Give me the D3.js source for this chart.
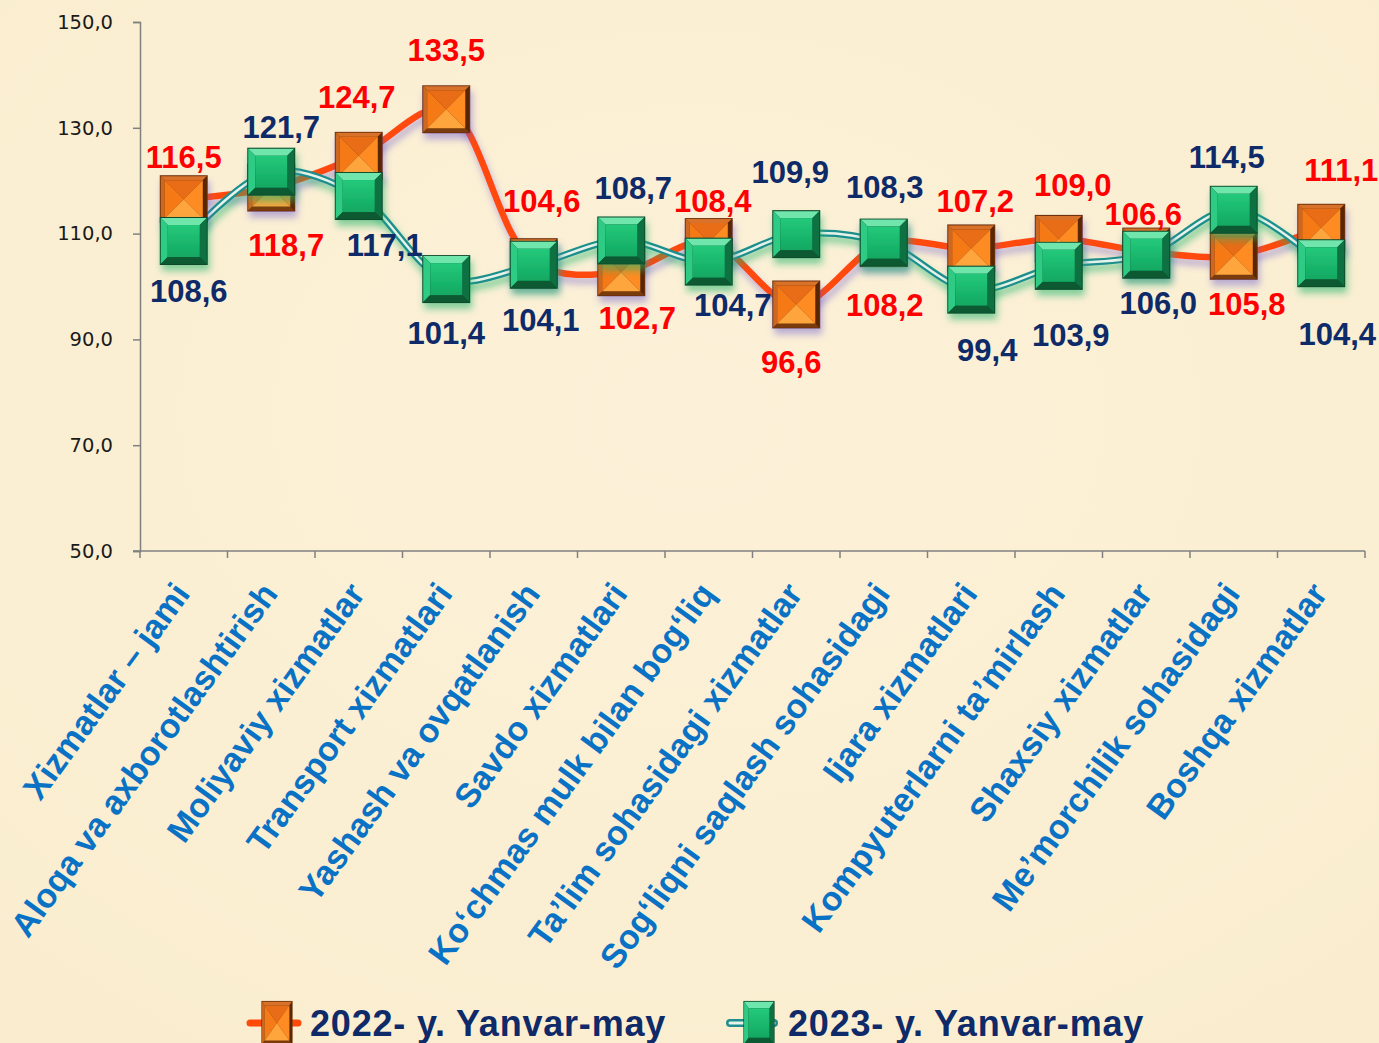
<!DOCTYPE html>
<html>
<head>
<meta charset="utf-8">
<script src="https://d3js.org/d3.v7.min.js"></script>
<style>
  html, body { margin: 0; padding: 0; background: #fbf0d6; }
  svg { display: block; }
</style>
</head>
<body>
<svg id="chart"></svg>
<script>
// data
var categories = ["Xizmatlar – jami", "Aloqa va axborotlashtirish", "Moliyaviy xizmatlar",
  "Transport xizmatlari", "Yashash va ovqatlanish", "Savdo xizmatlari",
  "Ko‘chmas mulk bilan bog‘liq", "Ta’lim sohasidagi xizmatlar", "Sog‘liqni saqlash sohasidagi",
  "Ijara xizmatlari", "Kompyuterlarni ta’mirlash", "Shaxsiy xizmatlar",
  "Me’morchilik sohasidagi", "Boshqa xizmatlar"];
var values2022 = [116.5, 118.7, 124.7, 133.5, 104.6, 102.7, 108.4, 96.6, 108.2, 107.2, 109.0, 106.6, 105.8, 111.1];
var values2023 = [108.6, 121.7, 117.1, 101.4, 104.1, 108.7, 104.7, 109.9, 108.3, 99.4, 103.9, 106.0, 114.5, 104.4];
var yTicks = [50, 70, 90, 110, 130, 150];
var seriesNames = ["2022- y. Yanvar-may", "2023- y. Yanvar-may"];

// label placement (pixel offsets from the marker)
var labelOff2022 = [[0,-42],[15,57],[-2,-59],[0,-59],[8,-61],[16,46],[4,-41],[-5,57],[1,62],[4,-48],[14,-54],[-3,-38],[13,48],[20,-58]];
var labelOff2023 = [[5,50],[10,-45],[26,49],[0,54],[7,55],[12,-53],[24,43],[-6,-62],[1,-56],[16,60],[12,69],[12,48],[-7,-53],[16,71]];

var W = 1379, H = 1043;
var margin = {top: 22, right: 14, bottom: 492, left: 140},
    width = W - margin.left - margin.right,
    height = H - margin.top - margin.bottom;

var root = d3.select("#chart").attr("width", W).attr("height", H);
var defs = root.append("defs");

// background
var bg = defs.append("radialGradient").attr("id", "bgGrad").attr("cx", "50%").attr("cy", "40%").attr("r", "75%");
bg.append("stop").attr("offset", "0%").attr("stop-color", "#fcf1d8");
bg.append("stop").attr("offset", "100%").attr("stop-color", "#faedcf");
root.append("rect").attr("width", W).attr("height", H).attr("fill", "url(#bgGrad)");

// shadows
function shadow(id, color, op) {
  var f = defs.append("filter").attr("id", id).attr("x", "-50%").attr("y", "-50%").attr("width", "200%").attr("height", "200%");
  f.append("feDropShadow").attr("dx", 2).attr("dy", 6).attr("stdDeviation", 3.5)
    .attr("flood-color", color).attr("flood-opacity", op);
}
shadow("shOrange", "#6a5acd", 0.45);
shadow("shGreen", "#1db36a", 0.55);

// marker symbols
var o = defs.append("g").attr("id", "mkOrange");
o.append("rect").attr("x", -24).attr("y", -24).attr("width", 48).attr("height", 48).attr("fill", "#6e3208");
o.append("polygon").attr("points", "-23,-23 23,-23 19,-19 -19,-19").attr("fill", "#d8722a");
o.append("polygon").attr("points", "-23,-23 -19,-19 -19,19 -23,23").attr("fill", "#cc6820");
o.append("polygon").attr("points", "23,-23 23,23 19,19 19,-19").attr("fill", "#5a2806");
o.append("polygon").attr("points", "-23,23 23,23 19,19 -19,19").attr("fill", "#7a3a0a");
o.append("polygon").attr("points", "-19,-19 19,-19 0,0").attr("fill", "#e96c18");
o.append("polygon").attr("points", "-19,-19 -19,19 0,0").attr("fill", "#f57a18");
o.append("polygon").attr("points", "19,-19 19,19 0,0").attr("fill", "#ff8c22");
o.append("polygon").attr("points", "-19,19 19,19 0,0").attr("fill", "#ffa53c");

var gg = defs.append("linearGradient").attr("id", "greenIn").attr("x1", 0).attr("y1", 0).attr("x2", 0).attr("y2", 1);
gg.append("stop").attr("offset", "0%").attr("stop-color", "#24c97a");
gg.append("stop").attr("offset", "100%").attr("stop-color", "#12a862");
var g = defs.append("g").attr("id", "mkGreen");
g.append("rect").attr("x", -24).attr("y", -24).attr("width", 48).attr("height", 48).attr("fill", "#0a4a2a");
g.append("polygon").attr("points", "-23,-23 23,-23 16,-16 -16,-16").attr("fill", "#6fe6ad");
g.append("polygon").attr("points", "-23,-23 -16,-16 -16,16 -23,23").attr("fill", "#2fcb84");
g.append("polygon").attr("points", "23,-23 23,23 16,16 16,-16").attr("fill", "#0d7142");
g.append("polygon").attr("points", "-23,23 23,23 16,16 -16,16").attr("fill", "#0b5a33");
g.append("rect").attr("x", -16).attr("y", -16).attr("width", 32).attr("height", 32).attr("fill", "url(#greenIn)");

var svg = root.append("g").attr("transform", "translate(" + margin.left + "," + margin.top + ")");

// scales
var x = d3.scaleBand().domain(categories).range([0, width]);
var y = d3.scaleLinear().domain([50, 150]).range([height, 0]);
var cx = function(i) { return x(categories[i]) + x.bandwidth() / 2; };

// Y axis
var yAxis = svg.append("g")
  .call(d3.axisLeft(y).tickValues(yTicks).tickSize(7).tickPadding(20)
    .tickFormat(function(d) { return d3.format(".1f")(d).replace(".", ","); }));
yAxis.select(".domain").attr("stroke", "#808080").attr("stroke-width", 1.5);
yAxis.selectAll(".tick line").attr("stroke", "#808080").attr("stroke-width", 1.5);
yAxis.selectAll("text").attr("font-family", "DejaVu Sans").attr("font-size", 19.5).attr("fill", "#1a1a1a");

// X axis (ticks at band edges)
var xAxis = svg.append("g").attr("transform", "translate(0," + height + ")");
xAxis.append("line").attr("x1", -7).attr("x2", width).attr("stroke", "#808080").attr("stroke-width", 1.5);
xAxis.selectAll(".edge").data(d3.range(categories.length + 1)).enter().append("line")
  .attr("class", "edge")
  .attr("x1", function(d) { return d * x.bandwidth(); })
  .attr("x2", function(d) { return d * x.bandwidth(); })
  .attr("y1", 0).attr("y2", 7)
  .attr("stroke", "#808080").attr("stroke-width", 1.5);
xAxis.selectAll(".lbl").data(categories).enter().append("text")
  .attr("class", "lbl")
  .attr("transform", function(d, i) { return "translate(" + (cx(i) - 2) + ",36) rotate(-54)"; })
  .attr("text-anchor", "end")
  .attr("dy", "0.35em")
  .attr("font-family", "Liberation Sans, Arial, sans-serif")
  .attr("font-weight", "bold")
  .attr("font-size", 34)
  .attr("fill", "#0a72c4")
  .text(function(d) { return d; });

// lines
var line = d3.line().x(function(d, i) { return cx(i); }).y(function(d) { return y(d); })
  .curve(d3.curveCatmullRom.alpha(0.5));

svg.append("path").datum(values2022).attr("d", line)
  .attr("fill", "none").attr("stroke", "#ff4a0a").attr("stroke-width", 6.5)
  .attr("filter", "url(#shOrange)");

var gLine = svg.append("g").attr("filter", "url(#shGreen)");
gLine.append("path").datum(values2023).attr("d", line)
  .attr("fill", "none").attr("stroke", "#1f8e8c").attr("stroke-width", 7);
gLine.append("path").datum(values2023).attr("d", line)
  .attr("fill", "none").attr("stroke", "#e6f3ea").attr("stroke-width", 2.5);

// markers
svg.selectAll(".m22").data(values2022).enter().append("use")
  .attr("class", "m22").attr("href", "#mkOrange")
  .attr("filter", "url(#shOrange)")
  .attr("transform", function(d, i) { return "translate(" + cx(i) + "," + y(d) + ")"; });
svg.selectAll(".m23").data(values2023).enter().append("use")
  .attr("class", "m23").attr("href", "#mkGreen")
  .attr("filter", "url(#shGreen)")
  .attr("transform", function(d, i) { return "translate(" + cx(i) + "," + y(d) + ")"; });

// value labels
var fmt = function(d) { return d3.format(".1f")(d).replace(".", ","); };
function labels(vals, offs, color) {
  svg.append("g").selectAll("text").data(vals).enter().append("text")
    .attr("x", function(d, i) { return cx(i) + offs[i][0]; })
    .attr("y", function(d, i) { return y(d) + offs[i][1]; })
    .attr("dy", "0.36em")
    .attr("text-anchor", "middle")
    .attr("font-family", "Liberation Sans, Arial, sans-serif")
    .attr("font-weight", "bold")
    .attr("font-size", 31)
    .attr("fill", color)
    .text(fmt);
}
labels(values2022, labelOff2022, "#ff0000");
labels(values2023, labelOff2023, "#0e2a68");

// legend
var legend = root.append("g").attr("transform", "translate(0,1023)");
var leg = [{x: 250, mk: "#mkOrange"}, {x: 728, mk: "#mkGreen"}];
leg.forEach(function(l, i) {
  var lg = legend.append("g").attr("transform", "translate(" + l.x + ",0)");
  if (i === 0) {
    lg.append("line").attr("x1", 0).attr("x2", 48).attr("stroke", "#ff4a0a").attr("stroke-width", 7).attr("stroke-linecap", "round");
  } else {
    lg.append("line").attr("x1", 2).attr("x2", 46).attr("stroke", "#1f8e8c").attr("stroke-width", 8).attr("stroke-linecap", "round");
    lg.append("line").attr("x1", 2).attr("x2", 46).attr("stroke", "#e6f3ea").attr("stroke-width", 3).attr("stroke-linecap", "round");
  }
  lg.append("use").attr("href", l.mk).attr("transform", "translate(" + (i === 0 ? 27 : 31) + ",0) scale(0.65,0.92)");
  lg.append("text").attr("x", 60).attr("y", 0).attr("dy", "0.36em")
    .attr("font-family", "Liberation Sans, Arial, sans-serif")
    .attr("font-weight", "bold").attr("font-size", 36)
    .attr("letter-spacing", 0.8)
    .attr("fill", "#0e2a68")
    .text(seriesNames[i]);
});
</script>
</body>
</html>
